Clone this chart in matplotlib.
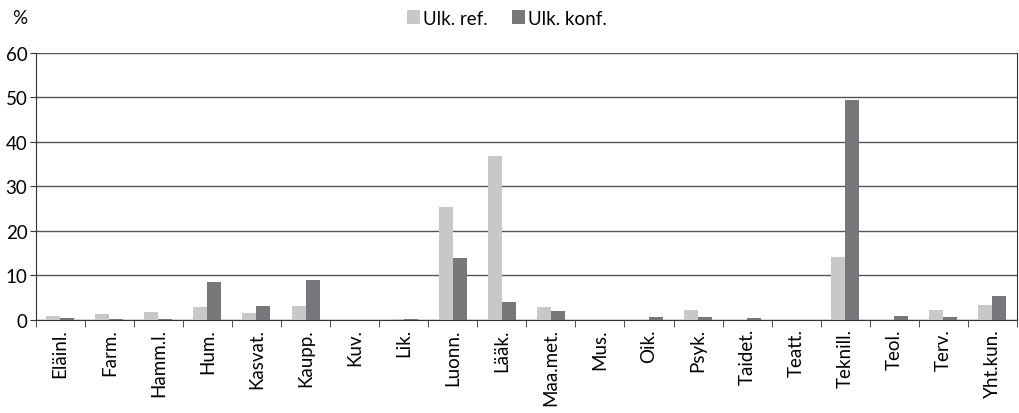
import numpy as np
import matplotlib.pyplot as plt

plt.rcParams['font.family'] = ['Lato', 'DejaVu Sans']

categories = ['Eläinl.', 'Farm.', 'Hamm.l.', 'Hum.', 'Kasvat.', 'Kaupp.', 'Kuv.', 'Lik.',
              'Luonn.', 'Lääk.', 'Maa.met.', 'Mus.', 'Oik.', 'Psyk.', 'Taidet.', 'Teatt.',
              'Teknill.', 'Teol.', 'Terv.', 'Yht.kun.']
ulk_ref = [0.8, 1.35, 1.8, 2.9, 1.5, 3.0, 0.0, 0.3, 25.3, 36.9, 2.85, 0.0, 0.0, 2.25, 0.0, 0.0,
           14.1, 0.0, 2.3, 3.4]
ulk_konf = [0.5, 0.1, 0.2, 8.4, 3.1, 8.9, 0.0, 0.1, 13.9, 3.9, 1.9, 0.0, 0.7, 0.6, 0.4, 0.0,
            49.5, 0.8, 0.6, 5.3]

fs = 13.5

fig = plt.figure(figsize=(10.2, 4.14), dpi=100)
ax = fig.add_axes([0.035, 0.225, 0.962, 0.645])

x = np.arange(len(categories))
w = 0.285
ax.bar(x - w / 2, ulk_ref, w, color='#c8c8c8', label='Ulk. ref.', zorder=3)
ax.bar(x + w / 2, ulk_konf, w, color='#77777b', label='Ulk. konf.', zorder=3)

ax.set_xlim(-0.5, len(categories) - 0.5)
ax.set_ylim(0, 60)
ax.set_yticks(range(0, 61, 10))
ax.yaxis.grid(True, color='#555555', linewidth=1, zorder=0)

ax.set_xticks(x)
ax.set_xticklabels(categories, rotation=90, fontsize=fs)
ax.set_xticks(np.arange(-0.5, len(categories), 1), minor=True)
ax.tick_params(axis='x', which='major', length=0, pad=6)
ax.tick_params(axis='x', which='minor', length=5, color='#333333')
ax.tick_params(axis='y', labelsize=fs, length=4, color='#333333', pad=2)

for side in ['left', 'bottom', 'right']:
    ax.spines[side].set_color('#333333')
ax.spines['top'].set_visible(False)

fig.text(0.012, 0.955, '%', fontsize=fs, va='center')
ax.legend(loc='center', bbox_to_anchor=(0.48, 1.13), ncol=2, frameon=False, fontsize=fs,
          handlelength=0.7, handleheight=0.7, handletextpad=0.15, columnspacing=1.3)

plt.savefig('out.png', dpi=100)
